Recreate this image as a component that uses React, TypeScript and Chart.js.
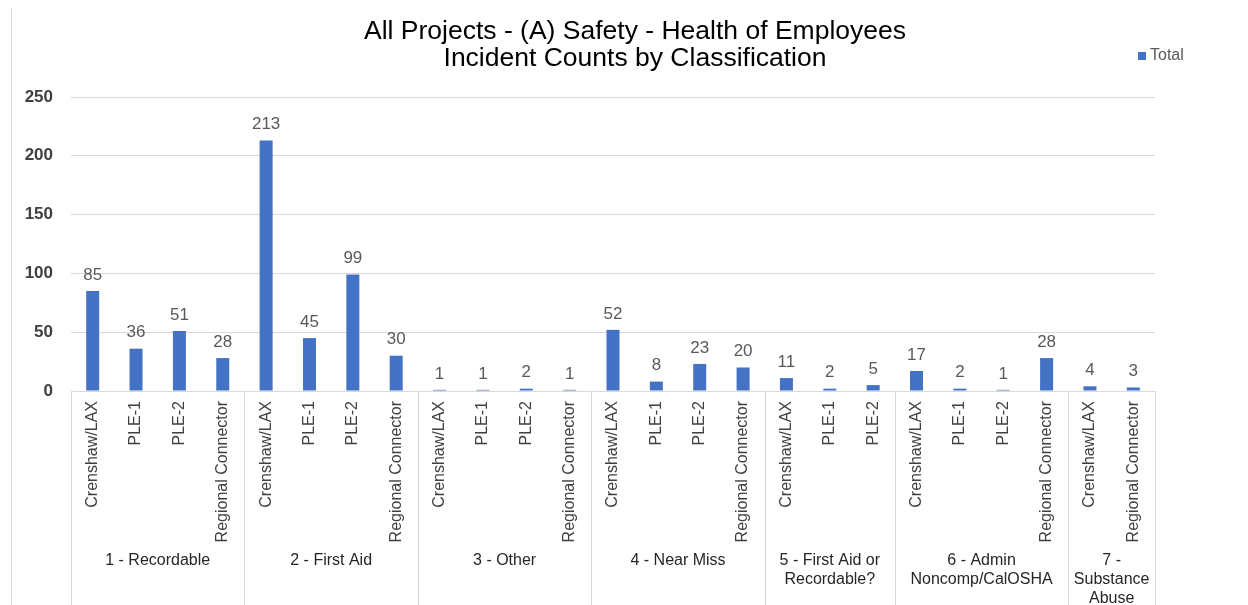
import React, { useEffect, useRef } from "react";
import { Chart, registerables } from "chart.js";

Chart.register(...registerables);

const titleLines = ["All Projects - (A) Safety - Health of Employees", "Incident Counts by Classification"];
const seriesName = "Total";
const categories = [
  "Crenshaw/LAX", "PLE-1", "PLE-2", "Regional Connector",
  "Crenshaw/LAX", "PLE-1", "PLE-2", "Regional Connector",
  "Crenshaw/LAX", "PLE-1", "PLE-2", "Regional Connector",
  "Crenshaw/LAX", "PLE-1", "PLE-2", "Regional Connector",
  "Crenshaw/LAX", "PLE-1", "PLE-2",
  "Crenshaw/LAX", "PLE-1", "PLE-2", "Regional Connector",
  "Crenshaw/LAX", "Regional Connector",
];
const values = [
  85, 36, 51, 28,
  213, 45, 99, 30,
  1, 1, 2, 1,
  52, 8, 23, 20,
  11, 2, 5,
  17, 2, 1, 28,
  4, 3,
];
const groupLabels = [
  ["1 - Recordable"],
  ["2 - First Aid"],
  ["3 - Other"],
  ["4 - Near Miss"],
  ["5 - First Aid or", "Recordable?"],
  ["6 - Admin", "Noncomp/CalOSHA"],
  ["7 -", "Substance", "Abuse"],
];
const groupSizes = [4, 4, 4, 4, 3, 4, 2];
const yTicks = { min: 0, max: 250, step: 50 };

const FONT = "'Liberation Sans', Arial, sans-serif";
const BAR = "#4472C4";
const LINE = "#d9d9d9";

const decorPlugin = {
  id: "decor",
  afterDraw(chart: any) {
    const ctx = chart.ctx;
    const area = chart.chartArea;
    const x = chart.scales.x;
    const H = chart.height;
    ctx.save();
    // left frame line
    ctx.strokeStyle = LINE;
    ctx.lineWidth = 1;
    ctx.beginPath();
    ctx.moveTo(11.5, 8);
    ctx.lineTo(11.5, H);
    ctx.stroke();

    // group boundaries and labels
    const n = categories.length;
    let idx = 0;
    const bounds: number[] = [area.left];
    groupSizes.forEach((s) => {
      idx += s;
      const px = idx < n ? (x.getPixelForValue(idx - 1) + x.getPixelForValue(idx)) / 2 : area.right;
      bounds.push(px);
    });
    ctx.beginPath();
    bounds.forEach((b) => {
      const bx = Math.round(b) + 0.5;
      ctx.moveTo(bx, area.bottom);
      ctx.lineTo(bx, H);
    });
    ctx.stroke();

    ctx.fillStyle = "#262626";
    ctx.font = `16px ${FONT}`;
    ctx.textAlign = "center";
    ctx.textBaseline = "middle";
    groupLabels.forEach((lines, g) => {
      const cx = (bounds[g] + bounds[g + 1]) / 2;
      lines.forEach((ln, i) => {
        ctx.fillText(ln, cx, 561 + i * 19);
      });
    });

    // data labels
    const meta = chart.getDatasetMeta(0);
    ctx.fillStyle = "#595959";
    ctx.font = `17px ${FONT}`;
    meta.data.forEach((bar: any, i: number) => {
      ctx.fillText(String(values[i]), bar.x, bar.y - 16);
    });

    // title
    ctx.fillStyle = "#000000";
    ctx.font = `26.5px ${FONT}`;
    titleLines.forEach((t, i) => {
      ctx.fillText(t, 635, 32 + i * 27);
    });

    // legend
    ctx.fillStyle = BAR;
    ctx.fillRect(1138, 52, 8, 8);
    ctx.fillStyle = "#595959";
    ctx.font = `16px ${FONT}`;
    ctx.textAlign = "left";
    ctx.fillText(seriesName, 1150, 56);
    ctx.restore();
  },
};

export default function App() {
  const ref = useRef<HTMLCanvasElement>(null);
  useEffect(() => {
    document.body.style.margin = "0";
    const chart = new Chart(ref.current as HTMLCanvasElement, {
      type: "bar",
      data: {
        labels: categories,
        datasets: [
          {
            label: seriesName,
            data: values,
            backgroundColor: BAR,
            barPercentage: 0.3,
            categoryPercentage: 1,
          },
        ],
      },
      options: {
        animation: false,
        responsive: false,
        layout: { padding: { top: 97, left: 0, right: 93, bottom: 0 } },
        plugins: {
          legend: { display: false },
          title: { display: false },
          tooltip: { enabled: false },
        },
        scales: {
          x: {
            grid: { display: false, drawTicks: false },
            border: { display: true, color: LINE },
            ticks: {
              minRotation: 90,
              maxRotation: 90,
              autoSkip: false,
              padding: 10,
              color: "#404040",
              font: { size: 16, family: FONT },
            },
            afterFit: (s: any) => {
              s.height = 214;
            },
          },
          y: {
            min: yTicks.min,
            max: yTicks.max,
            ticks: {
              stepSize: yTicks.step,
              padding: 18,
              color: "#404040",
              font: { size: 17, family: FONT, weight: "bold" },
            },
            grid: { color: LINE, drawTicks: false },
            border: { display: false },
            afterFit: (s: any) => {
              s.width = 71;
            },
          },
        },
      },
      plugins: [decorPlugin],
    } as any);
    return () => chart.destroy();
  }, []);
  return (
    <div style={{ width: 1248, height: 605, background: "#fff" }}>
      <canvas ref={ref} width={1248} height={605} />
    </div>
  );
}
